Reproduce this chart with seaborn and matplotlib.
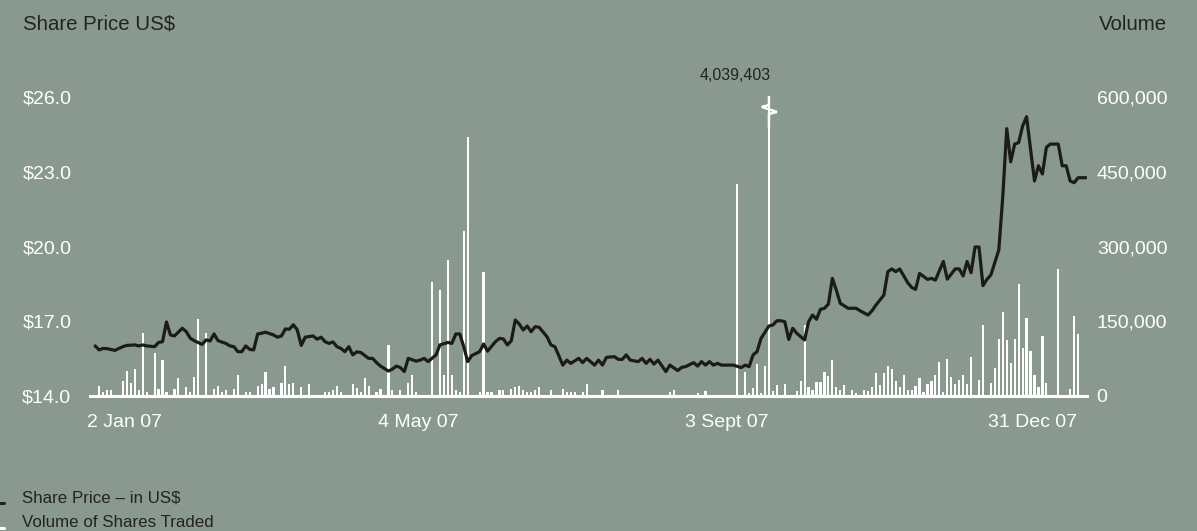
import numpy as np
import pandas as pd
import matplotlib
matplotlib.use("Agg")
import matplotlib.pyplot as plt
import matplotlib.transforms as mtransforms
from matplotlib.lines import Line2D
import seaborn as sns

# ---------------- data ----------------
price_day = [0, 1, 2, 3, 5, 6, 7, 8, 10, 11,
             12, 13, 15, 16, 17, 18, 19, 20, 22, 23,
             24, 25, 27, 28, 29, 30, 31, 33, 34, 35,
             36, 37, 38, 39, 40, 41, 42, 43, 45, 46,
             47, 48, 49, 50, 51, 52, 53, 55, 56, 57,
             58, 59, 60, 61, 62, 63, 64, 65, 66, 67,
             69, 70, 71, 72, 74, 75, 76, 77, 78, 79,
             81, 82, 83, 84, 86, 87, 89, 90, 91, 92,
             93, 94, 95, 97, 98, 99, 101, 102, 103, 104,
             105, 106, 107, 108, 109, 110, 111, 112, 114, 115,
             116, 118, 119, 120, 122, 123, 124, 126, 127, 128,
             129, 131, 132, 133, 134, 135, 137, 138, 139, 140,
             141, 142, 144, 145, 147, 148, 149, 151, 152, 153,
             154, 155, 156, 157, 158, 161, 163, 164, 165, 166,
             167, 168, 170, 171, 172, 173, 174, 175, 176, 177,
             179, 180, 181, 182, 183, 184, 185, 186, 187, 188,
             190, 192, 193, 195, 196, 197, 199, 200, 201, 202,
             203, 205, 206, 207, 208, 210, 211, 212, 214, 215,
             217, 218, 219, 220, 221, 222, 223, 224, 225, 226,
             228, 229, 230, 231, 232, 233, 234, 235, 237, 238,
             239, 240, 241, 243, 244, 245, 246, 247, 248, 250]

price_usd = [16.01, 15.85, 15.91, 15.90, 15.83, 15.91, 15.98, 16.03, 16.05, 16.01,
             16.05, 16.01, 15.98, 16.15, 16.18, 16.97, 16.45, 16.41, 16.72, 16.58,
             16.32, 16.22, 16.07, 16.25, 16.21, 16.49, 16.22, 16.11, 16.01, 15.98,
             15.78, 15.78, 16.01, 15.87, 15.85, 16.49, 16.52, 16.56, 16.45, 16.36,
             16.41, 16.69, 16.68, 16.86, 16.65, 16.03, 16.36, 16.41, 16.28, 16.36,
             16.18, 16.11, 16.17, 15.98, 15.91, 15.78, 15.98, 15.65, 15.77, 15.75,
             15.51, 15.51, 15.34, 15.20, 15.00, 15.08, 15.20, 15.14, 14.98, 15.51,
             15.40, 15.44, 15.51, 15.38, 15.65, 16.05, 16.15, 16.11, 16.49, 16.49,
             15.98, 15.38, 15.62, 15.78, 16.09, 15.80, 16.18, 16.31, 16.29, 16.05,
             16.22, 17.05, 16.89, 16.65, 16.81, 16.58, 16.78, 16.76, 16.38, 16.05,
             15.98, 15.24, 15.44, 15.31, 15.51, 15.34, 15.51, 15.24, 15.44, 15.24,
             15.55, 15.58, 15.47, 15.47, 15.65, 15.44, 15.38, 15.51, 15.31, 15.47,
             15.28, 15.44, 14.98, 15.24, 15.02, 15.15, 15.18, 15.34, 15.20, 15.38,
             15.24, 15.38, 15.24, 15.31, 15.24, 15.24, 15.14, 15.24, 15.18, 15.65,
             15.78, 16.31, 16.81, 16.85, 17.02, 17.02, 16.98, 16.27, 16.72, 16.52,
             16.25, 16.98, 17.25, 17.08, 17.48, 17.52, 17.69, 18.72, 18.25, 17.72,
             17.52, 17.52, 17.42, 17.25, 17.42, 17.65, 18.05, 18.99, 19.10, 18.99,
             19.10, 18.55, 18.36, 18.28, 18.92, 18.68, 18.72, 18.65, 19.40, 18.69,
             19.10, 19.10, 18.82, 19.40, 18.95, 19.98, 19.98, 18.43, 18.68, 18.86,
             19.86, 22.00, 24.73, 23.40, 24.11, 24.17, 24.83, 25.21, 22.63, 23.24,
             22.91, 23.98, 24.11, 24.11, 23.24, 23.24, 22.63, 22.56, 22.76, 22.76]

vol_day = [1, 2, 3, 4, 7, 8, 9, 10, 11, 12,
           13, 15, 16, 17, 18, 20, 21, 23, 24, 25,
           26, 28, 30, 31, 32, 33, 35, 36, 38, 39,
           41, 42, 43, 44, 45, 47, 48, 49, 50, 52,
           54, 58, 59, 60, 61, 62, 65, 66, 67, 68,
           69, 71, 72, 74, 75, 77, 79, 80, 81, 85,
           87, 88, 89, 90, 91, 92, 93, 94, 97, 98,
           99, 100, 102, 103, 105, 106, 107, 108, 109, 110,
           111, 112, 115, 118, 119, 120, 121, 123, 124, 128,
           132, 145, 146, 152, 154, 162, 164, 165, 166, 167,
           168, 169, 170, 171, 172, 174, 177, 178, 179, 180,
           181, 182, 183, 184, 185, 186, 187, 188, 189, 191,
           192, 194, 195, 196, 197, 198, 199, 200, 201, 202,
           203, 204, 205, 206, 207, 208, 209, 210, 211, 212,
           213, 214, 215, 216, 217, 218, 219, 220, 221, 223,
           224, 226, 227, 228, 229, 230, 231, 232, 233, 234,
           235, 236, 237, 238, 239, 240, 243, 246, 247, 248]

# volume of shares traded, thousands
volume_k = [20, 8, 12, 12, 30, 50, 26, 54, 12, 126,
            8, 86, 14, 72, 8, 14, 36, 18, 8, 38,
            154, 126, 14, 20, 8, 12, 14, 42, 8, 8,
            20, 24, 48, 14, 18, 26, 60, 24, 26, 18,
            24, 8, 8, 12, 20, 8, 24, 16, 8, 36,
            20, 8, 14, 102, 12, 12, 26, 42, 8, 229,
            213, 42, 273, 42, 12, 8, 332, 520, 8, 249,
            8, 8, 12, 12, 14, 18, 20, 12, 8, 8,
            12, 18, 12, 14, 8, 8, 8, 8, 24, 12,
            12, 8, 12, 7, 10, 425, 49, 7, 16, 65,
            7, 61, 4039.403, 10, 22, 24, 10, 31, 143, 18,
            12, 28, 28, 49, 41, 73, 18, 12, 22, 12,
            6, 12, 10, 18, 47, 22, 46, 60, 54, 30,
            18, 42, 12, 12, 20, 36, 8, 24, 30, 42,
            68, 8, 74, 38, 24, 32, 42, 24, 78, 32,
            142, 26, 56, 114, 168, 112, 66, 114, 224, 96,
            156, 90, 42, 18, 120, 26, 255, 14, 160, 124]

price_ticks = [14.0, 17.0, 20.0, 23.0, 26.0]
price_tick_labels = ["$14.0", "$17.0", "$20.0", "$23.0", "$26.0"]
volume_ticks = [0, 150000, 300000, 450000, 600000]
volume_tick_labels = ["0", "150,000", "300,000", "450,000", "600,000"]
date_labels = ["2 Jan 07", "4 May 07", "3 Sept 07", "31 Dec 07"]

# ---------------- style ----------------
BG = "#8a998f"
DARK = "#222222"
W, H = 1197, 531

sns.set_style("white")
plt.rcParams["font.family"] = ["Liberation Sans", "DejaVu Sans"]

price_df = pd.DataFrame({"day": price_day, "price": price_usd})
vol_df = pd.DataFrame({"day": vol_day, "volume": np.array(volume_k) * 1000.0})
vmax = volume_ticks[-1]
vol_df["shown"] = vol_df["volume"].clip(upper=vmax)

fig = plt.figure(figsize=(W / 100, H / 100), dpi=100, facecolor=BG)
ax = fig.add_axes([90 / W, (H - 396) / H, (1087 - 90) / W, (396 - 97) / H])
ax2 = ax.twinx()

# volume bars (right axis)
sns.barplot(data=vol_df, x="day", y="shown", native_scale=True, width=0.55,
            color="white", saturation=1, errorbar=None, linewidth=0, ax=ax2)

# share price line (left axis, drawn on top)
sns.lineplot(data=price_df, x="day", y="price", color="#1b1b1b",
             linewidth=2.3, ax=ax)

ax.set_zorder(ax2.get_zorder() + 1)
ax.patch.set_visible(False)
ax2.patch.set_visible(False)

xlim = (-1.3, 250.25)
ax.set_xlim(*xlim)
ax2.set_xlim(*xlim)
ax.set_ylim(price_ticks[0], price_ticks[-1])
ax2.set_ylim(0, vmax)

for a in (ax, ax2):
    for s in a.spines.values():
        s.set_visible(False)
    a.set_xlabel("")
    a.set_ylabel("")
    a.grid(False)
ax.spines["bottom"].set_visible(True)
ax.spines["bottom"].set_color("white")
ax.spines["bottom"].set_linewidth(2.2)

ax.set_yticks(price_ticks)
ax.set_yticklabels(price_tick_labels)
ax2.set_yticks(volume_ticks)
ax2.set_yticklabels(volume_tick_labels)
ax.tick_params(axis="y", length=0, pad=13.5, labelcolor="white", labelsize=14)
ax2.tick_params(axis="y", length=0, pad=7, labelcolor="white", labelsize=14)

date_pos = [7.3, 81.4, 159.4, 236.6]
ax.set_xticks(date_pos)
ax.set_xticklabels(date_labels)
ax.tick_params(axis="x", length=0, pad=13, labelcolor="white", labelsize=14)
ax2.tick_params(axis="x", length=0, labelbottom=False)

# truncated volume spike: break mark + label
spike = vol_df.loc[vol_df["volume"].idxmax()]
sd = spike["day"]
ax2.plot([sd, sd, sd - 1.8, sd + 2.0, sd, sd],
         [600000, 584000, 580000, 570000, 566000, 540000],
         color="white", lw=1.8, solid_joinstyle="miter", zorder=5, clip_on=False)
trans = mtransforms.blended_transform_factory(ax2.transData, ax2.transAxes)
ax2.text(sd + 0.4, 1.071, f"{int(round(spike['volume'])):,}", transform=trans,
         ha="right", va="center", color=DARK, fontsize=11.5)

# titles
fig.text(23 / W, 1 - 24 / H, "Share Price US$", ha="left", va="center",
         color=DARK, fontsize=14.7)
fig.text(1167 / W, 1 - 24 / H, "Volume", ha="right", va="center",
         color=DARK, fontsize=14.7)

# legend at bottom-left
fig.text(22 / W, 1 - 498 / H, "Share Price \u2013 in US$", ha="left", va="center",
         color=DARK, fontsize=12.2)
fig.text(22 / W, 1 - 522.5 / H, "Volume of Shares Traded", ha="left", va="center",
         color=DARK, fontsize=12.2)
fig.add_artist(Line2D([0, 4 / W], [1 - 503 / H, 1 - 503 / H], color=DARK, lw=2.2,
                      transform=fig.transFigure))
fig.add_artist(Line2D([0, 4 / W], [1 - 528 / H, 1 - 528 / H], color="white", lw=2.2,
                      transform=fig.transFigure))

fig.savefig("out.png", dpi=100, facecolor=BG)
